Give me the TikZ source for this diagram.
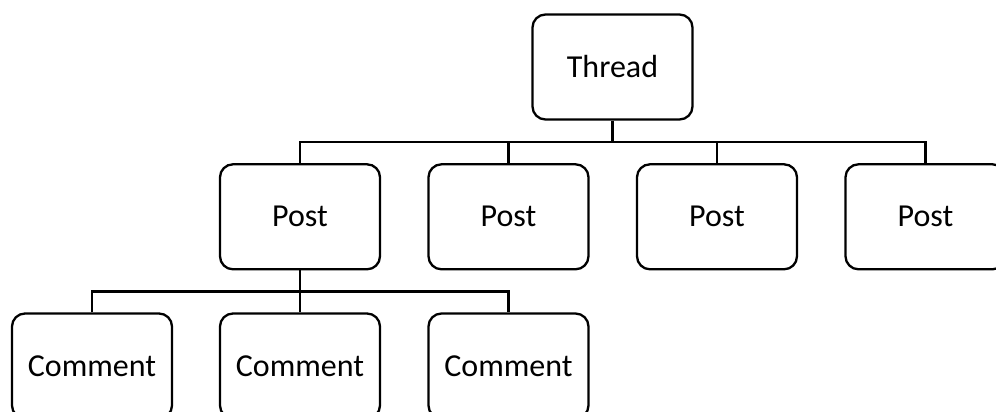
\documentclass[tikz,border=0pt]{standalone}
\usepackage{fontspec}
\setmainfont{Carlito}
\begin{document}
\begin{tikzpicture}[x=1pt,y=-1pt,
  box/.style={draw=black, line width=2.3pt, rounded corners=13pt, fill=white,
    minimum width=160pt, minimum height=105pt, inner sep=0pt,
    font=\fontsize{32}{38}\selectfont},
  link/.style={draw=black, line width=2.3pt}]
  \useasboundingbox (0,0) rectangle (996,412);
  % tree levels
  \node[box] (thread) at (612.5,67) {Thread};
  \node[box] (post1) at (300,216.8) {Post};
  \node[box] (post2) at (508.5,216.8) {Post};
  \node[box] (post3) at (717,216.8) {Post};
  \node[box] (post4) at (925.5,216.8) {Post};
  \node[box] (com1) at (92,366) {Comment};
  \node[box] (com2) at (300,366) {Comment};
  \node[box] (com3) at (508.5,366) {Comment};
  % bus lines
  \coordinate (busA) at (612.5,141.7);
  \coordinate (busB) at (300,291.5);
  \draw[link] (thread.south) -- (busA);
  \foreach \p in {post1,post2,post3,post4}
    \draw[link] (\p.north) |- (busA);
  \draw[link] (post1.south) -- (busB);
  \foreach \c in {com1,com2,com3}
    \draw[link] (\c.north) |- (busB);
\end{tikzpicture}
\end{document}
